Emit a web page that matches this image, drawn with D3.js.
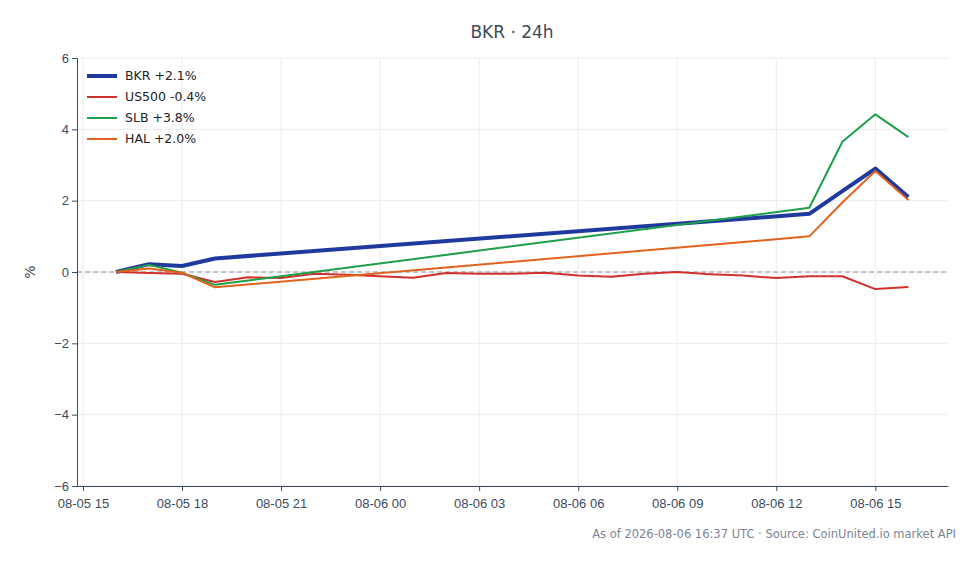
<!DOCTYPE html>
<html><head><meta charset="utf-8">
<script src="https://cdn.jsdelivr.net/npm/d3@7"></script>
<style>body{margin:0;background:#fff;font-family:"DejaVu Sans",sans-serif}</style>
</head><body><svg id="c" width="980" height="564"></svg>
<script>
// hours relative to 2026-08-05 00:00 UTC
const bkrHours = [16, 17, 18, 19, 37, 38, 39, 40];
const bkrVals = [0, 0.22, 0.17, 0.38, 1.63, 2.27, 2.9, 2.1];
const slbHours = [16, 17, 18, 19, 37, 38, 39, 40];
const slbVals = [0, 0.2, -0.02, -0.36, 1.8, 3.65, 4.42, 3.78];
const halHours = [16, 17, 18, 19, 37, 38, 39, 40];
const halVals = [0, 0.1, -0.02, -0.43, 1.0, 1.95, 2.83, 2.02];
const usHours = d3.range(16, 41);
const usVals = [0, -0.03, -0.05, -0.28, -0.15, -0.17, -0.05, -0.08, -0.12, -0.16, -0.03, -0.05, -0.05, -0.02, -0.1, -0.13, -0.05, 0, -0.06, -0.1, -0.17, -0.12, -0.12, -0.48, -0.42];
const xTicks = [15, 18, 21, 24, 27, 30, 33, 36, 39];
const yTicks = [-6, -4, -2, 0, 2, 4, 6];

const series = [
  {name: "BKR +2.1%", hours: bkrHours, vals: bkrVals, color: "#1f3a9e", w: 4},
  {name: "US500 -0.4%", hours: usHours, vals: usVals, color: "#d0312d", w: 2},
  {name: "SLB +3.8%", hours: slbHours, vals: slbVals, color: "#1f9e4a", w: 2},
  {name: "HAL +2.0%", hours: halHours, vals: halVals, color: "#e0621c", w: 2}
];

const t0 = Date.UTC(2026, 7, 5);
const toDate = h => new Date(t0 + h * 3600e3);
const svg = d3.select("#c");
const L = 77, R = 948, T = 58, B = 486;
const x = d3.scaleUtc().domain([toDate(14.82), toDate(41.2)]).range([L, R]);
const y = d3.scaleLinear().domain([-6, 6]).range([B, T]);
const fmt = d3.utcFormat("%m-%d %H");

svg.append("g").selectAll("line").data(xTicks).join("line")
  .attr("x1", d => x(toDate(d))).attr("x2", d => x(toDate(d))).attr("y1", T).attr("y2", B)
  .attr("stroke", "#ebebeb");
svg.append("g").selectAll("line").data(yTicks).join("line")
  .attr("x1", L).attr("x2", R).attr("y1", d => y(d)).attr("y2", d => y(d))
  .attr("stroke", "#ebebeb");
svg.append("line").attr("x1", L).attr("x2", R).attr("y1", y(0)).attr("y2", y(0))
  .attr("stroke", "#8a94a6").attr("stroke-dasharray", "5,3");

const xa = svg.append("g").attr("transform", `translate(0,${B})`)
  .call(d3.axisBottom(x).tickValues(xTicks.map(toDate)).tickFormat(fmt).tickSize(5).tickSizeOuter(0));
const ya = svg.append("g").attr("transform", `translate(${L},0)`)
  .call(d3.axisLeft(y).tickValues(yTicks).tickFormat(d => d < 0 ? "\u2212" + (-d) : d).tickSize(5).tickSizeOuter(0));
[xa, ya].forEach(a => {
  a.selectAll("text").attr("fill", "#3d4a5c").style("font-size", "13px");
  a.selectAll("line,path").attr("stroke", "#3d4a5c");
});
xa.selectAll("text").attr("dy", "1.1em");

const line = d3.line().x(d => x(toDate(d[0]))).y(d => y(d[1]));
series.forEach(s => {
  svg.append("path").datum(d3.zip(s.hours, s.vals)).attr("d", line)
    .attr("fill", "none").attr("stroke", s.color).attr("stroke-width", s.w)
    .attr("stroke-linejoin", "round");
});

const lg = svg.append("g").attr("transform", "translate(87,76)");
series.forEach((s, i) => {
  const g = lg.append("g").attr("transform", `translate(0,${i * 21})`);
  g.append("line").attr("x1", 0).attr("x2", 30).attr("stroke", s.color).attr("stroke-width", s.w);
  g.append("text").attr("x", 38).attr("dy", "0.35em").text(s.name)
    .attr("fill", "#222").style("font-size", "12.5px");
});

svg.append("text").attr("x", 512).attr("y", 38).attr("text-anchor", "middle")
  .attr("fill", "#3d4a5c").style("font-size", "17px").text("BKR \u00b7 24h");
svg.append("text").attr("transform", `translate(35,${y(0)}) rotate(-90)`).attr("text-anchor", "middle")
  .attr("fill", "#3d4a5c").style("font-size", "14px").text("%");
svg.append("text").attr("x", 956).attr("y", 538).attr("text-anchor", "end")
  .attr("fill", "#7a8494").style("font-size", "11.5px")
  .text("As of 2026-08-06 16:37 UTC \u00b7 Source: CoinUnited.io market API");
</script></body></html>
